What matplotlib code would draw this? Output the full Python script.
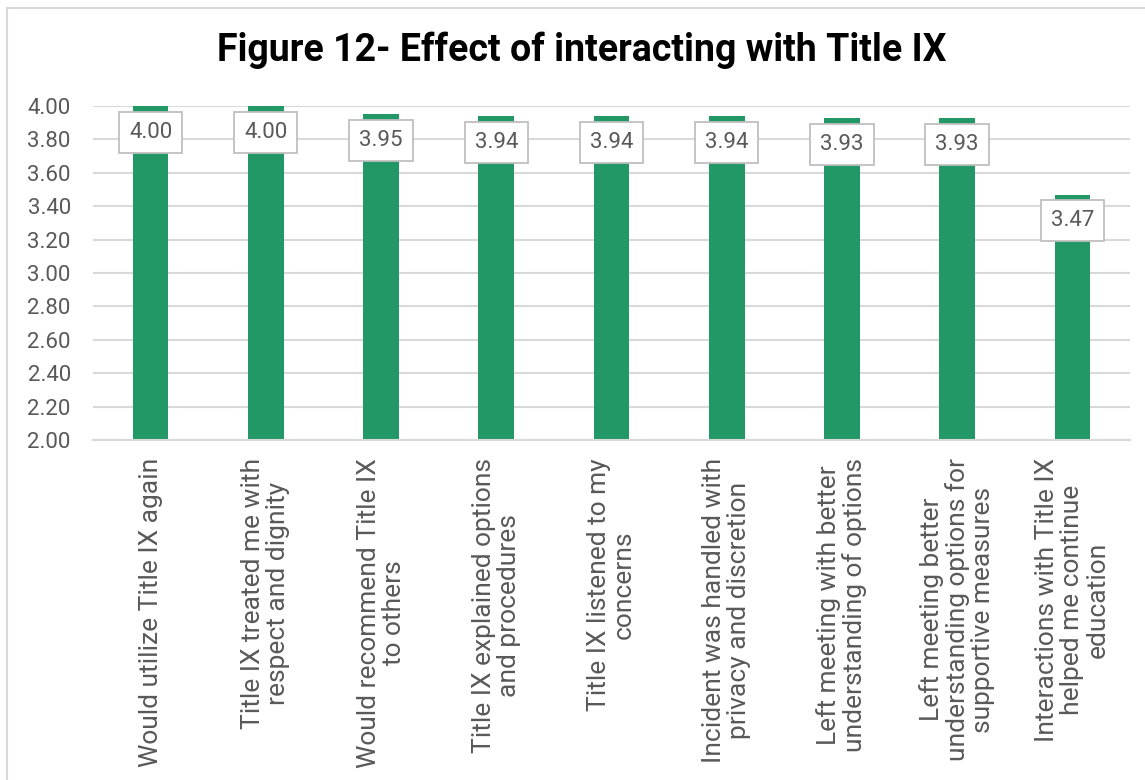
import matplotlib.pyplot as plt
from matplotlib.patches import Rectangle

# data
categories = [
    "Would utilize Title IX again",
    "Title IX treated me with\nrespect and dignity",
    "Would recommend Title IX\nto others",
    "Title IX explained options\nand procedures",
    "Title IX listened to my\nconcerns",
    "Incident was handled with\nprivacy and discretion",
    "Left meeting with better\nunderstanding of options",
    "Left meeting better\nunderstanding options for\nsupportive measures",
    "Interactions with Title IX\nhelped me continue\neducation",
]
values = [4.00, 4.00, 3.95, 3.94, 3.94, 3.94, 3.93, 3.93, 3.47]
yticks = [2.0, 2.2, 2.4, 2.6, 2.8, 3.0, 3.2, 3.4, 3.6, 3.8, 4.0]

plt.rcParams['font.family'] = ['Roboto', 'DejaVu Sans']

W, H = 1145, 780
fig = plt.figure(figsize=(W / 100, H / 100), dpi=100)

# chart border (cropped on the right and bottom)
fig.patches.append(Rectangle((7 / W, -0.1), 1.2, (H - 8) / H + 0.1,
                             transform=fig.transFigure, fill=False,
                             edgecolor='#d9d9d9', linewidth=1.5))

ax = fig.add_axes([93 / W, (H - 440) / H, 1037 / W, 334 / H])

x = range(len(categories))
ax.bar(x, values, width=0.31, color='#219865', zorder=2)

ax.set_xlim(-0.5, len(categories) - 0.5)
ax.set_ylim(2.0, 4.0)
ax.set_yticks(yticks)
ax.set_yticklabels([f"{t:.2f}" for t in yticks], fontsize=16, color='#595959')
ax.yaxis.grid(True, color='#d9d9d9', linewidth=1.5, zorder=0)
ax.tick_params(axis='y', length=0, pad=16)
ax.tick_params(axis='x', length=0, pad=13)
ax.set_xticks(list(x))
ax.set_xticklabels(categories, rotation=90, fontsize=19, color='#595959',
                   ha='center', va='top', multialignment='center',
                   linespacing=1.05)
for s in ['top', 'right', 'left']:
    ax.spines[s].set_visible(False)
ax.spines['bottom'].set_color('#d9d9d9')
ax.spines['bottom'].set_linewidth(1.5)

# value labels in boxes
for i, v in enumerate(values):
    ax.annotate(f"{v:.2f}", (i, v), xytext=(0, -19), textcoords='offset points',
                ha='center', va='center', fontsize=16, color='#595959', zorder=4,
                bbox=dict(boxstyle='square,pad=0.45', facecolor='white',
                          edgecolor='#bfbfbf', linewidth=1.3))

fig.text(582 / W, 1 - 50 / H, "Figure 12- Effect of interacting with Title IX",
         ha='center', va='center', fontsize=27, fontweight='bold', color='black')

fig.savefig('out.png', dpi=100)
